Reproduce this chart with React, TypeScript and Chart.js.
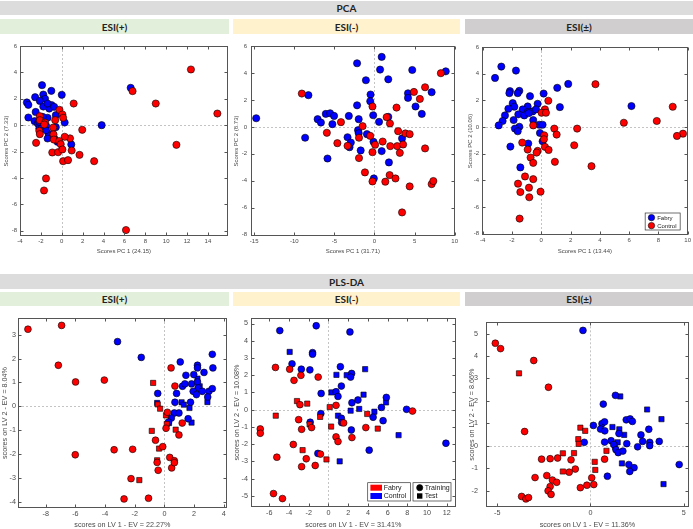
import React, { useEffect, useRef } from "react";
import { Chart, registerables } from "chart.js";
Chart.register(...registerables);

type Pt = [number, number];

// ---------- PCA ESI(+) ----------
const pcaPosFabry: Pt[] = [[-1.89,3.03],[-1.0,2.6],[-1.77,2.32],[0,2.3],[-2.55,2.12],[-1.6,2.0],[-3.34,1.72],[-3.2,1.54],[-2.1,1.84],[-0.98,1.52],[-1.77,1.41],[-1.2,1.26],[-1.36,1.64],[-0.73,1.39],[-2.5,1.0],[-3.2,0.58],[-0.57,0.76],[-1.36,0.56],[-1.83,0.63],[0.28,0.2],[-2.6,0.3],[-2.3,0.13],[-2.15,-0.25],[-1.5,-0.05],[-0.57,-0.15],[-1.26,-0.66],[-0.88,-0.88],[-0.72,-1.0],[-1.36,-1.01],[-0.41,-1.26],[0.91,-1.46],[3.82,0.0],[6.6,2.83],[-2.15,0.25],[-1.92,-0.25],[-1.51,-0.38]];
const pcaPosControl: Pt[] = [[12.37,4.22],[9.0,1.64],[14.9,0.88],[10.98,-1.49],[6.78,2.58],[1.14,1.64],[-0.22,1.16],[0.06,0.81],[0.13,0.56],[-0.63,0.38],[-2.1,0.68],[-2.1,0.38],[-1.6,0.2],[-1.67,0.05],[-0.82,-0.18],[-2.15,-0.43],[-2.1,-0.68],[1.96,-0.35],[-0.79,-0.7],[-0.76,-1.09],[0.79,-1.0],[0.28,-0.88],[-0.25,-1.2],[-0.1,-1.44],[-2.46,-1.34],[-0.91,-2.07],[-0.35,-2.05],[0.06,-1.84],[0.95,-1.92],[1.7,-2.25],[0.13,-2.73],[0.6,-2.65],[3.1,-2.73],[-1.51,-4.04],[-1.7,-4.95],[6.15,-7.95]];

// ---------- PCA ESI(-) ----------
const pcaNegFabry: Pt[] = [[0.9,5.19],[-2.17,4.72],[0.7,4.25],[4.71,4.22],[-1.07,3.46],[1.72,3.53],[8.89,4.12],[-0.49,2.4],[4.18,2.49],[4.18,2.15],[7.13,2.57],[-8.24,2.35],[-0.53,1.9],[-2.17,1.6],[5.12,1.51],[5.9,0.96],[-6.07,0.96],[-5.53,1.01],[-7.09,0.57],[-6.68,0.32],[-5.04,0.81],[-3.2,0.81],[-0.16,0.86],[1.72,0.74],[-1.97,0.57],[-5.25,0.2],[0.57,0.37],[-14.75,0.64],[-2.05,-0.25],[-1.97,-0.47],[-0.94,-0.54],[-3.36,-0.77],[-3.11,-1.51],[-2.95,-1.16],[-8.65,-0.81],[-1.72,-1.75],[-0.12,-1.11],[0.9,-1.8],[3.44,-0.86],[-5.86,-2.35],[1.8,-2.64],[-0.08,-3.83]];
const pcaNegControl: Pt[] = [[-9.06,2.47],[8.28,3.98],[6.31,2.94],[4.92,2.59],[5.66,2.07],[2.75,1.43],[-0.25,1.51],[-4.18,0.35],[-1.48,0.05],[1.52,0.72],[1.93,0.25],[-5.94,-0.44],[-1.93,-0.81],[-0.53,-0.67],[0.08,-1.33],[-4.63,-1.21],[-3.36,-1.41],[1.02,-1.09],[1.97,-1.43],[2.95,-0.32],[2.83,-1.43],[3.57,-1.31],[3.16,-1.93],[3.85,-0.49],[4.39,-0.54],[6.31,-1.6],[-0.25,-1.88],[-1.93,-2.32],[-1.19,-3.38],[-0.25,-4.05],[1.35,-4.07],[1.89,-3.58],[2.62,-3.83],[4.39,-4.42],[7.13,-4.25],[7.34,-4.02],[3.44,-6.35]];

// ---------- PCA ESI(±) ----------
const pcaPmFabry: Pt[] = [[-2.73,4.53],[-1.73,4.23],[-3.16,3.68],[-2.14,2.69],[-1.5,2.71],[-2.18,2.54],[-1.61,2.54],[0.16,2.51],[1.09,2.94],[1.84,3.23],[-0.77,2.31],[1.27,1.49],[6.16,1.57],[-1.95,1.79],[-1.84,1.52],[-0.93,1.54],[-0.25,1.74],[-2.25,1.37],[-1.27,1.32],[-0.93,1.12],[-0.59,1.17],[-0.36,1.32],[-2.48,0.87],[-1.57,0.95],[-1.16,0.87],[-0.86,1.04],[-2.64,0.45],[-1.89,0.52],[-0.55,0.52],[-2.91,0.12],[-1.5,0.02],[-1.8,-0.12],[-1.61,-0.32],[-0.14,0.17],[0.09,0.17],[-0.09,-0.45],[0.09,-1.07],[-0.89,-1.24],[-2.11,-1.47],[-1.43,-3.03]];
const pcaPmControl: Pt[] = [[3.7,3.21],[0.48,1.97],[0.25,1.32],[0.02,1.07],[0.32,1.07],[-0.55,0.12],[5.64,0.32],[7.89,0.45],[8.98,1.52],[9.68,-0.5],[9.27,-0.67],[0.89,-0.12],[1.05,-0.57],[2.45,-0.12],[0.2,-0.62],[0.18,-0.92],[0.25,-1.49],[0.5,-1.72],[2.25,-1.37],[-1.3,-1.17],[-0.93,-1.69],[-0.25,-1.79],[-0.32,-1.92],[-0.73,-2.29],[-0.55,-2.69],[0.93,-2.61],[3.43,-2.94],[-1.11,-3.71],[-0.55,-3.91],[-1.59,-4.25],[-1.43,-4.88],[-0.84,-4.55],[-0.82,-5.27],[-0.05,-4.85],[-1.48,-6.87]];

// ---------- PLS-DA ESI(+) ----------
const plsPosFabryTrain: Pt[] = [[-9.2,3.23],[-6.93,3.39],[-7.15,1.72],[-5.99,1.02],[-4.05,1.1],[-6.01,-2.03],[-3.39,-1.82],[-2.14,-1.8],[-2.25,-3.03],[-2.72,-3.88],[-1.07,-3.85],[0.45,1.61],[0.71,0.85],[1.2,-0.7],[0.98,-1.2],[0.11,-0.92],[0.2,-0.25],[-0.6,-1.42],[-0.11,-1.69],[-0.49,-2.35],[-0.42,-2.68],[0.36,-2.14],[0.49,-2.58],[0.67,-2.28],[0.67,-2.36]];
const plsPosFabryTest: Pt[] = [[-0.76,0.98],[-0.45,0.08],[-0.29,-0.1],[0.11,-0.38],[0.16,-0.74],[-0.85,-1.03],[0.76,-0.98],[-0.36,-1.77],[-0.49,-2.26],[-1.69,-3.09]];
const plsPosControlTrain: Pt[] = [[-3.16,2.71],[-1.56,2.05],[1.07,1.86],[3.23,2.18],[2.23,1.72],[2.23,1.61],[1.45,1.3],[1.98,1.33],[2.67,1.42],[3.27,1.61],[1.22,0.84],[1.38,0.94],[1.83,0.94],[2.23,1.02],[2.27,0.77],[1.94,0.63],[2.16,0.49],[2.56,0.63],[3.0,0.63],[3.23,0.74],[2.92,0.39],[-0.45,0.54],[0.82,0.54],[0.71,0.17],[1.76,0.17],[0.67,-0.28],[0.98,-0.28],[0.47,-0.49],[1.6,-0.52],[0.27,-0.66]];
const plsPosControlTest: Pt[] = [[-0.49,0.14],[1.16,0.17],[1.31,0.07],[1.69,-0.07],[2.38,0.84],[2.45,0.63],[1.83,-0.68],[2.9,0.18],[2.23,1.16],[0.31,-0.7]];

// ---------- PLS-DA ESI(-) ----------
const plsNegFabryTrain: Pt[] = [[-5.37,2.45],[-3.93,2.35],[-3.49,1.7],[-2.79,1.99],[-1.04,1.89],[-2.89,0.29],[-3.02,-0.58],[-2.72,-1.14],[-1.71,-1.04],[0.77,0.25],[1.54,-0.77],[0.77,-1.58],[0.97,-1.85],[2.38,-1.62],[3.79,-1.04],[8.52,-0.08],[-3.56,-2.02],[-5.23,-2.76],[-6.91,-1.12],[-6.91,-1.37],[-2.25,-2.85],[-2.72,-3.31],[-1.34,-3.24],[-0.81,-2.58],[-5.57,-4.87],[-4.66,-5.16]];
const plsNegFabryTest: Pt[] = [[-5.34,-0.35],[-3.19,0.5],[-2.15,0.35],[0.13,0.15],[-0.84,-0.42],[-1.91,-0.85],[0.27,-0.98],[3.93,-0.25],[5.0,-1.1],[-2.62,-2.35],[-0.2,-2.89]];
const plsNegControlTrain: Pt[] = [[-4.93,4.59],[-1.24,4.87],[2.18,4.51],[-3.69,2.66],[-2.75,2.35],[-1.61,3.31],[-1.61,3.22],[-1.88,2.31],[1.21,2.49],[2.35,2.1],[2.25,1.89],[1.31,1.37],[-0.74,0.94],[0.77,1.04],[0.97,0.77],[2.38,0.4],[2.99,0.56],[5.87,0.71],[5.37,0.13],[7.92,0.02],[-0.77,-0.23],[4.53,-0.44],[5.54,-0.64],[-1.85,-0.73],[1.31,-0.5],[1.34,-0.75],[2.32,-1.18],[4.13,-2.35],[-1.07,-2.54],[11.91,-1.95]];
const plsNegControlTest: Pt[] = [[-3.93,3.35],[0.81,2.02],[1.85,2.0],[3.72,2.35],[0.3,1.0],[3.56,0.87],[3.12,0.04],[5.84,0.42],[2.25,-0.06],[4.66,-0.12],[0.97,-0.35],[7.11,-1.48],[1.14,-3.0]];

// ---------- PLS-DA ESI(±) ----------
const plsPmFabryTrain: Pt[] = [[-5.1,4.57],[-4.82,4.33],[-3.04,3.8],[-2.25,2.61],[-3.53,0.64],[-2.62,-0.59],[-2.16,-0.57],[-1.76,-0.54],[-1.04,-0.62],[-0.81,-1.03],[-1.14,-1.17],[-2.97,-1.41],[-2.34,-1.32],[-2.04,-1.52],[-1.81,-1.62],[-2.16,-1.81],[-2.27,-2.0],[-2.11,-2.16],[-3.69,-2.25],[-3.46,-2.36],[-3.32,-2.3],[-0.54,-1.86],[-0.19,-1.75],[0.07,-1.42],[0.18,-1.72],[0.76,-0.59]];
const plsPmFabryTest: Pt[] = [[-3.83,3.23],[-0.54,0.81],[-0.28,0.67],[-0.65,0.3],[-0.63,0.09],[-0.88,-0.32],[-1.48,-0.33],[-1.48,-1.14],[0.23,-0.71],[0.26,-1.07],[0.86,-0.22]];
const plsPmControlTrain: Pt[] = [[-0.4,5.14],[1.34,2.25],[0.69,1.86],[0.16,0.91],[0.62,0.99],[0.76,1.07],[0.54,0.75],[0.77,0.67],[-0.33,0.16],[0.76,0.17],[1.11,0.23],[1.25,0.06],[1.37,-0.17],[1.49,-0.3],[1.74,-0.23],[1.95,0.1],[1.53,0.55],[1.92,1.16],[2.13,1.2],[2.25,1.09],[2.71,0.49],[2.8,0.2],[3.13,0.74],[3.18,0.16],[3.18,0.01],[3.69,0.2],[2.53,-0.04],[2.06,-0.83],[2.34,-0.97],[2.11,-1.14],[0.91,-1.35],[4.76,-0.83]];
const plsPmControlTest: Pt[] = [[1.6,2.2],[3.04,1.62],[3.81,1.19],[1.18,0.84],[1.55,0.74],[1.81,0.49],[1.46,0.16],[1.32,-0.04],[1.69,-0.78],[3.92,-1.7]];

const RED = "#ff0000";
const BLUE = "#0000ff";
const AXFONT = "'Liberation Sans', Arial, sans-serif";
const HEADFONT = "Lato, 'Open Sans', sans-serif";
const TEXT = "#4a4a4a";

type Series = { label: string; data: Pt[]; color: string; shape: "circle" | "rect"; r: number };
type Spec = {
  cx: number; cy: number; cw: number; ch: number;
  L: number; T: number; R: number; B: number;
  xMin: number; xMax: number; xStep: number;
  yMin: number; yMax: number; yStep: number;
  xTitle: string; yTitle: string; font: number;
  yTitlePad: number; yTickPad: number; xTickPad: number; xTitlePad: number;
  series: Series[]; legend?: "pca" | "pls";
};

function circle(ctx: CanvasRenderingContext2D, x: number, y: number, r: number, fill: string) {
  ctx.beginPath(); ctx.arc(x, y, r, 0, Math.PI * 2); ctx.fillStyle = fill; ctx.fill();
  ctx.lineWidth = 0.6; ctx.strokeStyle = "#000"; ctx.stroke();
}

const framePlugin = {
  id: "frame",
  beforeDatasetsDraw(chart: any) {
    const { ctx, chartArea: a, scales } = chart;
    const x0 = Math.round(scales.x.getPixelForValue(0)) + 0.5;
    const y0 = Math.round(scales.y.getPixelForValue(0)) + 0.5;
    ctx.save();
    ctx.strokeStyle = "#c4c4c4"; ctx.lineWidth = 1; ctx.setLineDash([2, 2]);
    ctx.beginPath();
    ctx.moveTo(x0, a.top); ctx.lineTo(x0, a.bottom);
    ctx.moveTo(a.left, y0); ctx.lineTo(a.right, y0);
    ctx.stroke();
    ctx.restore();
  },
  afterDatasetsDraw(chart: any) {
    const { ctx, chartArea: a, scales } = chart;
    const l = Math.round(a.left) + 0.5, r = Math.round(a.right) - 0.5;
    const t = Math.round(a.top) + 0.5, b = Math.round(a.bottom) - 0.5;
    ctx.save();
    ctx.strokeStyle = "#555"; ctx.lineWidth = 1;
    ctx.strokeRect(l, t, r - l, b - t);
    ctx.beginPath();
    for (const tk of scales.x.ticks) {
      const p = Math.round(scales.x.getPixelForValue(tk.value)) + 0.5;
      ctx.moveTo(p, b); ctx.lineTo(p, b - 3);
      ctx.moveTo(p, t); ctx.lineTo(p, t + 3);
    }
    for (const tk of scales.y.ticks) {
      const p = Math.round(scales.y.getPixelForValue(tk.value)) + 0.5;
      ctx.moveTo(l, p); ctx.lineTo(l + 3, p);
      ctx.moveTo(r, p); ctx.lineTo(r - 3, p);
    }
    ctx.stroke();
    ctx.restore();
  },
  afterDraw(chart: any, _args: any, opts: any) {
    const { ctx, chartArea: a } = chart;
    ctx.save();
    if (opts.legend === "pca") {
      const bw = 35, bh = 17;
      const bx = a.right - 7.5 - bw, by = a.bottom - 5 - bh;
      ctx.fillStyle = "#fff"; ctx.fillRect(bx, by, bw, bh);
      ctx.strokeStyle = "#333"; ctx.lineWidth = 0.7; ctx.strokeRect(bx, by, bw, bh);
      const rows: [string, string][] = [["Fabry", BLUE], ["Control", RED]];
      rows.forEach(([t, c], i) => {
        const y = by + 4.6 + i * 8;
        circle(ctx, bx + 6.3, y, 3.2, c);
        ctx.fillStyle = "#222"; ctx.font = `6px ${AXFONT}`; ctx.textBaseline = "middle"; ctx.textAlign = "left";
        ctx.fillText(t, bx + 12, y + 0.3);
      });
    } else if (opts.legend === "pls") {
      const bh = 18.3, top = a.bottom - 6 - bh;
      const b1w = 42.7, b1x = a.right - 45.3 - b1w;
      const b2w = 38, b2x = a.right - 4.7 - b2w;
      ctx.fillStyle = "#fff";
      ctx.fillRect(b1x, top, b1w, bh); ctx.fillRect(b2x, top, b2w, bh);
      ctx.strokeStyle = "#333"; ctx.lineWidth = 0.7;
      ctx.strokeRect(b1x, top, b1w, bh); ctx.strokeRect(b2x, top, b2w, bh);
      ctx.font = `7px ${AXFONT}`; ctx.textBaseline = "middle"; ctx.textAlign = "left";
      const rows1: [string, string][] = [["Fabry", RED], ["Control", BLUE]];
      rows1.forEach(([t, c], i) => {
        const y = top + 5 + i * 8.3;
        ctx.fillStyle = c; ctx.fillRect(b1x + 2.7, y - 3, 11.6, 6);
        ctx.fillStyle = "#222"; ctx.fillText(t, b1x + 16, y + 0.3);
      });
      circle(ctx, b2x + 6.7, top + 5, 3.1, "#000");
      ctx.fillStyle = "#000"; ctx.fillRect(b2x + 4, top + 13.3 - 2.7, 5.4, 5.4);
      ctx.fillStyle = "#222";
      ctx.fillText("Training", b2x + 11.7, top + 5.3);
      ctx.fillText("Test", b2x + 11.7, top + 13.6);
    }
    ctx.restore();
  },
};

function Panel({ spec }: { spec: Spec }) {
  const ref = useRef<HTMLCanvasElement>(null);
  useEffect(() => {
    const s = spec;
    const font = { size: s.font, family: AXFONT };
    const chart = new Chart(ref.current as HTMLCanvasElement, {
      type: "scatter",
      data: {
        datasets: s.series.map((d) => ({
          label: d.label,
          data: d.data.map(([x, y]) => ({ x, y })),
          backgroundColor: d.color,
          borderColor: "#000",
          borderWidth: 0.6,
          pointRadius: d.r,
          pointHoverRadius: d.r,
          pointStyle: d.shape,
        })),
      },
      options: {
        responsive: false,
        animation: false,
        events: [],
        layout: { padding: { top: s.T - s.cy, right: s.cx + s.cw - s.R, left: 0, bottom: 0 } },
        plugins: { legend: { display: false }, tooltip: { enabled: false }, frame: { legend: s.legend } } as any,
        scales: {
          x: {
            type: "linear", min: s.xMin, max: s.xMax,
            grid: { display: false, drawTicks: false, tickLength: 0 }, border: { display: false },
            ticks: { stepSize: s.xStep, includeBounds: false, maxTicksLimit: 50, autoSkip: false, maxRotation: 0, font, color: TEXT, padding: s.xTickPad },
            title: { display: true, text: s.xTitle, font, color: TEXT, padding: { top: 0, bottom: s.xTitlePad } },
            afterFit: (sc: any) => { sc.height = s.cy + s.ch - s.B; },
          },
          y: {
            type: "linear", min: s.yMin, max: s.yMax,
            grid: { display: false, drawTicks: false, tickLength: 0 }, border: { display: false },
            ticks: { stepSize: s.yStep, includeBounds: false, maxTicksLimit: 50, autoSkip: false, font, color: TEXT, padding: s.yTickPad },
            title: { display: true, text: s.yTitle, font, color: TEXT, padding: { top: s.yTitlePad, bottom: 0 } },
            afterFit: (sc: any) => { sc.width = s.L - s.cx; },
          },
        } as any,
      },
      plugins: [framePlugin as any],
    });
    return () => chart.destroy();
  }, [spec]);
  return (
    <canvas
      ref={ref}
      width={spec.cw}
      height={spec.ch}
      style={{ position: "absolute", left: spec.cx, top: spec.cy, width: spec.cw, height: spec.ch }}
    />
  );
}

const pca = (fab: Pt[], con: Pt[]): Series[] => [
  { label: "Control", data: con, color: RED, shape: "circle", r: 3.6 },
  { label: "Fabry", data: fab, color: BLUE, shape: "circle", r: 3.6 },
];
const pls = (ft: Pt[], fs: Pt[], ct: Pt[], cs: Pt[]): Series[] => [
  { label: "Fabry training", data: ft, color: RED, shape: "circle", r: 3.4 },
  { label: "Fabry test", data: fs, color: RED, shape: "rect", r: 3.7 },
  { label: "Control training", data: ct, color: BLUE, shape: "circle", r: 3.4 },
  { label: "Control test", data: cs, color: BLUE, shape: "rect", r: 3.7 },
];

const specs: Spec[] = [
  { cx: 0, cy: 38, cw: 232, ch: 218, L: 20, T: 46, R: 231, B: 236, xMin: -4, xMax: 15.9, xStep: 2, yMin: -8.4, yMax: 6, yStep: 2,
    xTitle: "Scores PC 1 (24.15)", yTitle: "Scores PC 2 (7.33)", font: 6, yTitlePad: 2.4, yTickPad: 3, xTickPad: 2, xTitlePad: 0.7,
    series: pca(pcaPosFabry, pcaPosControl) },
  { cx: 232, cy: 38, cw: 228, ch: 218, L: 251, T: 46, R: 458, B: 236, xMin: -15.4, xMax: 10, xStep: 5, yMin: -8.1, yMax: 6, yStep: 2,
    xTitle: "Scores PC 1 (31.71)", yTitle: "Scores PC 2 (8.73)", font: 6, yTitlePad: 0.6, yTickPad: 4, xTickPad: 2, xTitlePad: 0.7,
    series: pca(pcaNegFabry, pcaNegControl) },
  { cx: 462, cy: 38, cw: 231, ch: 218, L: 482, T: 47, R: 689, B: 235, xMin: -4.05, xMax: 10, xStep: 2, yMin: -8.1, yMax: 6, yStep: 2,
    xTitle: "Scores PC 1 (13.44)", yTitle: "Scores PC 2 (10.06)", font: 6, yTitlePad: 4.4, yTickPad: 3, xTickPad: 2, xTitlePad: 0.7,
    series: pca(pcaPmFabry, pcaPmControl), legend: "pca" },
  { cx: 0, cy: 310, cw: 231, ch: 219, L: 18, T: 318, R: 229, B: 508, xMin: -9.87, xMax: 4.2, xStep: 2, yMin: -4.26, yMax: 3.7, yStep: 1,
    xTitle: "scores on LV 1 - EV = 22.27%", yTitle: "scores on LV 2 - EV = 8.04%", font: 7.2, yTitlePad: 0.7, yTickPad: 2, xTickPad: 2, xTitlePad: 0,
    series: pls(plsPosFabryTrain, plsPosFabryTest, plsPosControlTrain, plsPosControlTest) },
  { cx: 232, cy: 310, cw: 228, ch: 219, L: 251, T: 318, R: 457, B: 507, xMin: -7.85, xMax: 12.9, xStep: 2, yMin: -5.65, yMax: 5.32, yStep: 1,
    xTitle: "scores on LV 1 - EV = 31.41%", yTitle: "scores on LV 2 - EV = 10.08%", font: 7.2, yTitlePad: 0.7, yTickPad: 3, xTickPad: 2, xTitlePad: 0,
    series: pls(plsNegFabryTrain, plsNegFabryTest, plsNegControlTrain, plsNegControlTest), legend: "pls" },
  { cx: 462, cy: 310, cw: 231, ch: 219, L: 486, T: 318, R: 692, B: 507, xMin: -5.6, xMax: 5.27, xStep: 5, yMin: -2.72, yMax: 5.5, yStep: 1,
    xTitle: "scores on LV 1 - EV = 11.36%", yTitle: "scores on LV 2 - EV = 8.66%", font: 7.2, yTitlePad: 5.7, yTickPad: 8, xTickPad: 2, xTitlePad: 0,
    series: pls(plsPmFabryTrain, plsPmFabryTest, plsPmControlTrain, plsPmControlTest) },
];

function Bar({ x, y, w, h, bg, text, size }: { x: number; y: number; w: number; h: number; bg: string; text: string; size: number }) {
  return (
    <div style={{ position: "absolute", left: x, top: y, width: w, height: h, background: bg, display: "flex",
      alignItems: "center", justifyContent: "center", fontFamily: HEADFONT, fontWeight: 700, fontSize: size, color: "#222" }}>
      {text}
    </div>
  );
}

export default function App() {
  return (
    <div style={{ position: "absolute", left: 0, top: 0, width: 693, height: 529, background: "#fff", overflow: "hidden" }}>
      <Bar x={0} y={1} w={693} h={14} bg="#dcdcdc" text="PCA" size={10} />
      <Bar x={0} y={19} w={229} h={15} bg="#e2efda" text="ESI(+)" size={10} />
      <Bar x={233} y={19} w={227} h={15} bg="#fff2cc" text="ESI(-)" size={10} />
      <Bar x={465} y={19} w={228} h={15} bg="#d0cece" text="ESI(±)" size={10} />
      <Bar x={0} y={274} w={693} h={15} bg="#dcdcdc" text="PLS-DA" size={10} />
      <Bar x={0} y={292} w={229} h={14} bg="#e2efda" text="ESI(+)" size={10} />
      <Bar x={233} y={292} w={227} h={14} bg="#fff2cc" text="ESI(-)" size={10} />
      <Bar x={465} y={292} w={228} h={14} bg="#d0cece" text="ESI(±)" size={10} />
      {specs.map((s, i) => <Panel key={i} spec={s} />)}
    </div>
  );
}
